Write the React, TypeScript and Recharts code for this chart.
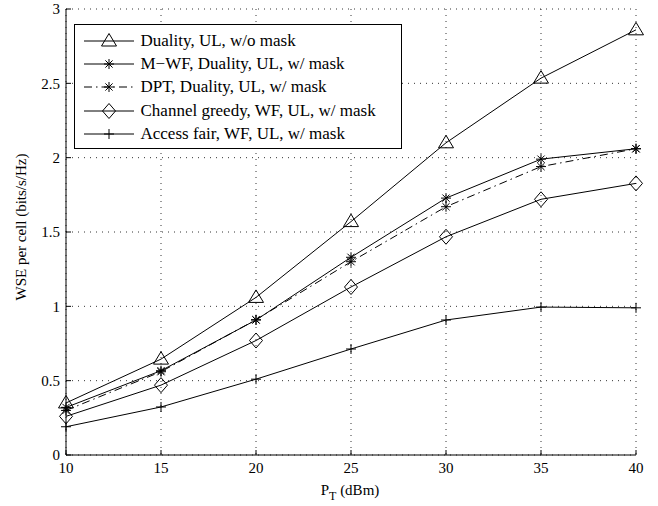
import React from "react";
import { CartesianGrid, Line, LineChart, XAxis, YAxis } from "recharts";

const powerDbm = [10, 15, 20, 25, 30, 35, 40];
const dualityNoMask = [0.35, 0.645, 1.06, 1.57, 2.1, 2.535, 2.86];
const mwfDuality = [0.32, 0.567, 0.908, 1.33, 1.728, 1.99, 2.06];
const dptDuality = [0.3, 0.56, 0.91, 1.3, 1.67, 1.94, 2.06];
const channelGreedy = [0.26, 0.47, 0.77, 1.13, 1.468, 1.72, 1.827];
const accessFair = [0.19, 0.323, 0.51, 0.713, 0.908, 0.995, 0.99];

const xTicks = [10, 15, 20, 25, 30, 35, 40];
const yTicks = [0, 0.5, 1, 1.5, 2, 2.5, 3];

type MarkerKind = "triangle" | "star" | "diamond" | "plus";

const SERIES: { key: string; name: string; marker: MarkerKind; dash?: string }[] = [
  { key: "dualityNoMask", name: "Duality, UL, w/o mask", marker: "triangle" },
  { key: "mwfDuality", name: "M\u2212WF, Duality, UL, w/ mask", marker: "star" },
  { key: "dptDuality", name: "DPT, Duality, UL, w/ mask", marker: "star", dash: "8 4 1.5 4" },
  { key: "channelGreedy", name: "Channel greedy, WF, UL, w/ mask", marker: "diamond" },
  { key: "accessFair", name: "Access fair, WF, UL, w/ mask", marker: "plus" },
];

const data = powerDbm.map((p, i) => ({
  p,
  dualityNoMask: dualityNoMask[i],
  mwfDuality: mwfDuality[i],
  dptDuality: dptDuality[i],
  channelGreedy: channelGreedy[i],
  accessFair: accessFair[i],
}));

const FONT = "'Liberation Serif', 'Times New Roman', serif";

function Marker({ kind, cx, cy }: { kind: MarkerKind; cx: number; cy: number }) {
  const common = { fill: "none", stroke: "#000", strokeWidth: 1 };
  if (kind === "triangle") {
    return (
      <polygon
        {...common}
        points={`${cx},${cy - 7.5} ${cx - 7.5},${cy + 5} ${cx + 7.5},${cy + 5}`}
      />
    );
  }
  if (kind === "diamond") {
    return (
      <polygon
        {...common}
        points={`${cx},${cy - 7.5} ${cx + 6.5},${cy} ${cx},${cy + 7.5} ${cx - 6.5},${cy}`}
      />
    );
  }
  if (kind === "plus") {
    return (
      <g {...common}>
        <line x1={cx - 5} y1={cy} x2={cx + 5} y2={cy} />
        <line x1={cx} y1={cy - 5} x2={cx} y2={cy + 5} />
      </g>
    );
  }
  const r = 5;
  const d = 3.6;
  return (
    <g {...common}>
      <line x1={cx - r} y1={cy} x2={cx + r} y2={cy} />
      <line x1={cx} y1={cy - r} x2={cx} y2={cy + r} />
      <line x1={cx - d} y1={cy - d} x2={cx + d} y2={cy + d} />
      <line x1={cx - d} y1={cy + d} x2={cx + d} y2={cy - d} />
    </g>
  );
}

function LegendBox() {
  return (
    <div
      style={{
        position: "absolute",
        left: 74,
        top: 24,
        width: 328,
        height: 125,
        border: "1.5px solid #000",
        background: "#fff",
        fontFamily: FONT,
        fontSize: 17,
        boxSizing: "border-box",
        paddingTop: 4,
      }}
    >
      {SERIES.map((s) => (
        <div key={s.key} style={{ display: "flex", alignItems: "center", height: 23.3 }}>
          <svg width={52} height={20} style={{ marginLeft: 8.5, marginRight: 5, flex: "none" }}>
            <line x1={0} y1={10} x2={50} y2={10} stroke="#000" strokeDasharray={s.dash} />
            <Marker kind={s.marker} cx={25} cy={10} />
          </svg>
          <span style={{ whiteSpace: "nowrap" }}>{s.name}</span>
        </div>
      ))}
    </div>
  );
}

const tickStyle = { fontFamily: FONT, fontSize: 15, fill: "#000" };

export default function App() {
  return (
    <div style={{ position: "absolute", left: 0, top: 0, width: 658, height: 506, background: "#fff" }}>
      <LineChart width={658} height={506} data={data} margin={{ top: 9, right: 22, bottom: 21, left: 20 }}>
        <CartesianGrid stroke="#000" strokeDasharray="1 5" strokeWidth={0.8} />
        <XAxis
          dataKey="p"
          type="number"
          domain={[10, 40]}
          ticks={xTicks}
          height={30}
          tick={tickStyle}
          tickSize={-5}
          tickMargin={12}
          axisLine={{ stroke: "#000" }}
          tickLine={{ stroke: "#000" }}
          label={{
            content: () => (
              <text x={350} y={495} textAnchor="middle" fontFamily={FONT} fontSize={15} fill="#000">
                P<tspan dy={5} fontSize={12}>T</tspan>
                <tspan dy={-5}> (dBm)</tspan>
              </text>
            ),
          }}
        />
        <XAxis
          xAxisId="top"
          orientation="top"
          dataKey="p"
          type="number"
          domain={[10, 40]}
          ticks={xTicks}
          height={0}
          tickSize={-5}
          tickFormatter={() => ""}
          axisLine={{ stroke: "#000" }}
          tickLine={{ stroke: "#000" }}
        />
        <YAxis
          type="number"
          domain={[0, 3]}
          ticks={yTicks}
          width={46}
          tick={tickStyle}
          tickSize={-5}
          tickMargin={11}
          axisLine={{ stroke: "#000" }}
          tickLine={{ stroke: "#000" }}
          label={{
            content: () => (
              <text
                x={26}
                y={227}
                transform="rotate(-90 26 227)"
                textAnchor="middle"
                fontFamily={FONT}
                fontSize={15}
                fill="#000"
              >
                WSE per cell (bits/s/Hz)
              </text>
            ),
          }}
        />
        <YAxis
          yAxisId="right"
          orientation="right"
          type="number"
          domain={[0, 3]}
          ticks={yTicks}
          width={0}
          tickSize={-5}
          tickFormatter={() => ""}
          axisLine={{ stroke: "#000" }}
          tickLine={{ stroke: "#000" }}
        />
        {SERIES.map((s) => (
          <Line
            key={s.key}
            dataKey={s.key}
            name={s.name}
            type="linear"
            stroke="#000"
            strokeWidth={1}
            strokeDasharray={s.dash}
            isAnimationActive={false}
            dot={(props: any) => (
              <Marker key={`${s.key}-${props.index}`} kind={s.marker} cx={props.cx} cy={props.cy} />
            )}
            activeDot={false}
          />
        ))}
      </LineChart>
      <LegendBox />
    </div>
  );
}
